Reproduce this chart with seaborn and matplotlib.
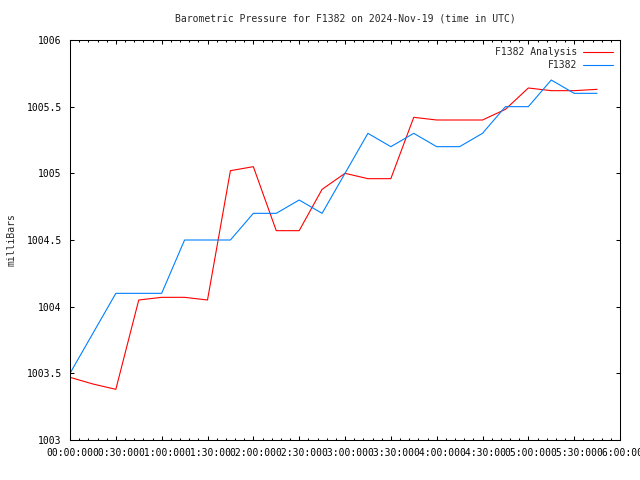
import matplotlib
matplotlib.use("Agg")
import matplotlib.pyplot as plt
import matplotlib.ticker as mticker
import seaborn as sns
import pandas as pd

# Données (pas de 15 min)
times = ["00:00", "00:15", "00:30", "00:45", "01:00", "01:15", "01:30", "01:45",
         "02:00", "02:15", "02:30", "02:45", "03:00", "03:15", "03:30", "03:45",
         "04:00", "04:15", "04:30", "04:45", "05:00", "05:15", "05:30", "05:45"]
analysis = [1003.47, 1003.42, 1003.38, 1004.05, 1004.07, 1004.07, 1004.05, 1005.02,
            1005.05, 1004.57, 1004.57, 1004.88, 1005.00, 1004.96, 1004.96, 1005.42,
            1005.40, 1005.40, 1005.40, 1005.48, 1005.64, 1005.62, 1005.62, 1005.63]
station = [1003.5, 1003.8, 1004.1, 1004.1, 1004.1, 1004.5, 1004.5, 1004.5,
           1004.7, 1004.7, 1004.8, 1004.7, 1005.0, 1005.3, 1005.2, 1005.3,
           1005.2, 1005.2, 1005.3, 1005.5, 1005.5, 1005.7, 1005.6, 1005.6]

minutes = pd.to_timedelta([t + ":00" for t in times]).total_seconds() / 60
df = pd.DataFrame({"minutes": minutes, "F1382 Analysis": analysis, "F1382": station})

sns.set_style("white")
plt.rcParams["font.family"] = ["DejaVu Sans Mono"]
plt.rcParams["font.size"] = 7

fig = plt.figure(figsize=(6.4, 4.8), dpi=100)
ax = fig.add_axes([70 / 640, 40 / 480, 550 / 640, 400 / 480])

sns.lineplot(data=df, x="minutes", y="F1382 Analysis", color="#ff0000", lw=0.8, ax=ax, label="F1382 Analysis")
sns.lineplot(data=df, x="minutes", y="F1382", color="#0080ff", lw=0.8, ax=ax, label="F1382")

ax.set_xlim(0, 360)
ax.set_ylim(1003, 1006)
ax.xaxis.set_major_locator(mticker.MultipleLocator(30))
ax.xaxis.set_minor_locator(mticker.MultipleLocator(6))
ax.xaxis.set_major_formatter(mticker.FuncFormatter(
    lambda v, p: f"{int(v) // 60:02d}:{int(v) % 60:02d}:00"))
ax.yaxis.set_major_locator(mticker.MultipleLocator(0.5))
ax.yaxis.set_major_formatter(mticker.FuncFormatter(lambda v, p: f"{v:g}"))

ax.tick_params(which="both", direction="in", top=True, right=True, bottom=True, left=True,
               width=0.75, colors="black", labelsize=7)
ax.tick_params(which="major", length=3.2, pad=6)
ax.tick_params(which="minor", length=1.5)
for s in ax.spines.values():
    s.set_linewidth(0.75)
    s.set_color("black")

ax.set_xlabel("")
ax.set_ylabel("milliBars", fontsize=7, labelpad=7)
ax.set_title("Barometric Pressure for F1382 on 2024-Nov-19 (time in UTC)", fontsize=7, pad=13)

ax.legend(loc="upper right", frameon=False, markerfirst=False, handlelength=3.1,
          handletextpad=0.5, borderaxespad=0.35, labelspacing=0.3, fontsize=7)

fig.savefig("out.png", dpi=100)
